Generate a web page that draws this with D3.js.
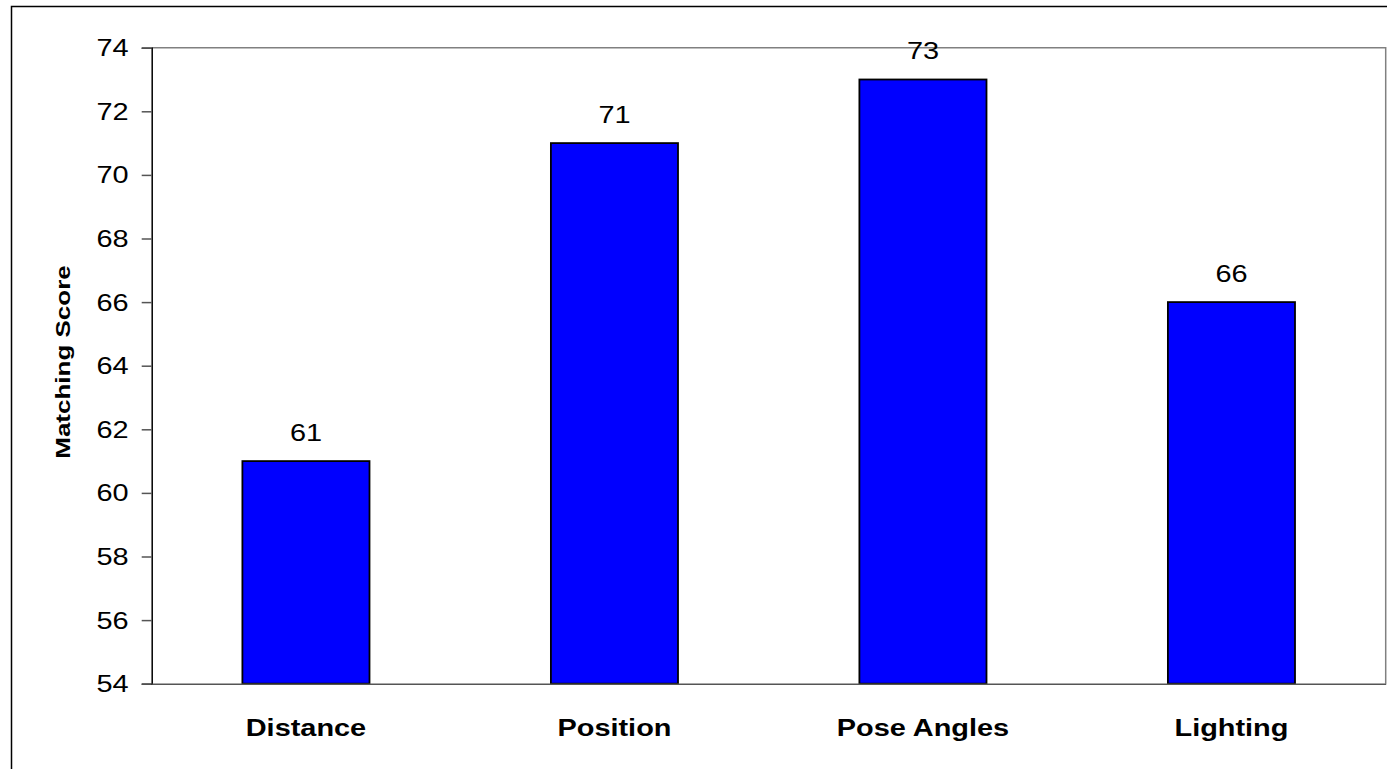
<!DOCTYPE html>
<html>
<head>
<meta charset="utf-8">
<script src="https://cdn.jsdelivr.net/npm/d3@7"></script>
<style>
  html, body { margin: 0; padding: 0; background: #fff; }
  svg { display: block; }
  text { font-family: "Liberation Sans", Arial, sans-serif; fill: #000; }
</style>
</head>
<body>
<svg id="chart" width="1387" height="769"></svg>
<script>
// Matching score per test condition
const categories = ["Distance", "Position", "Pose Angles", "Lighting"];
const scores = [61, 71, 73, 66];
const yTicks = [54, 56, 58, 60, 62, 64, 66, 68, 70, 72, 74];
const yTitle = "Matching Score";

const W = 1387, H = 769;
const plot = { left: 151.7, top: 47.7, right: 1385.7, bottom: 683.7 };
const stretch = 1.18; // horizontal stretch of all chart text

const svg = d3.select("#chart");

// outer chart frame (left and top edges)
svg.append("path")
  .attr("d", `M11.5,${H} V6.5 H${W}`)
  .attr("fill", "none").attr("stroke", "#000").attr("stroke-width", 1.5);

const x = d3.scaleBand()
  .domain(categories)
  .range([plot.left, plot.right])
  .paddingInner(0.588)
  .paddingOuter(0.294);

const y = d3.scaleLinear()
  .domain([54, 74])
  .range([plot.bottom, plot.top]);

// stretched text helper
function label(parent, tx, ty, str, opts) {
  const g = parent.append("g")
    .attr("transform", `translate(${tx},${ty}) ${opts.rotate ? "rotate(-90)" : ""} scale(${opts.sx || stretch},1)`);
  g.append("text")
    .attr("text-anchor", opts.anchor || "middle")
    .attr("font-size", opts.size)
    .attr("font-weight", opts.bold ? "bold" : "normal")
    .text(str);
  return g;
}

// plot area top and right border
svg.append("path")
  .attr("d", `M${plot.left},${plot.top} H${plot.right} V${plot.bottom}`)
  .attr("fill", "none").attr("stroke", "#808080").attr("stroke-width", 1.5);

// bars
svg.append("g").selectAll("rect")
  .data(categories)
  .join("rect")
  .attr("x", d => x(d))
  .attr("width", x.bandwidth())
  .attr("y", (d, i) => y(scores[i]))
  .attr("height", (d, i) => y(54) - y(scores[i]))
  .attr("fill", "#0000ff")
  .attr("stroke", "#000")
  .attr("stroke-width", 1.8);

// y axis
const yAxis = svg.append("g")
  .attr("transform", `translate(${plot.left},0)`)
  .call(d3.axisLeft(y).tickValues(yTicks).tickSize(10).tickFormat(() => ""));
yAxis.select(".domain").attr("stroke", "#000").attr("stroke-width", 1.5);
yAxis.selectAll(".tick line").attr("stroke", "#555").attr("stroke-width", 1.5);

yTicks.forEach(t => {
  label(svg, plot.left - 23, y(t) + 8.5, String(t), { size: 24.5, anchor: "end" });
});

// x axis baseline
const xAxis = svg.append("g")
  .attr("transform", `translate(0,${plot.bottom})`)
  .call(d3.axisBottom(x).tickSize(0).tickFormat(() => ""));
xAxis.select(".domain").attr("stroke", "#555").attr("stroke-width", 1.5);

categories.forEach(c => {
  label(svg, x(c) + x.bandwidth() / 2, 735.7, c, { size: 24.5, bold: true });
});

// value labels above bars
categories.forEach((c, i) => {
  label(svg, x(c) + x.bandwidth() / 2, y(scores[i]) - 20.5, String(scores[i]), { size: 24.5 });
});

// y axis title
label(svg, 70, 362, yTitle, { size: 20, bold: true, rotate: true, sx: 1.3 });
</script>
</body>
</html>
